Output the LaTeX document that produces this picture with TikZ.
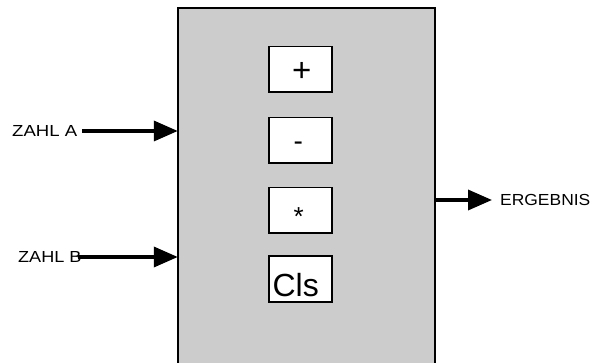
\documentclass[tikz,border=0pt]{standalone}
\usepackage{fontspec}
\setmainfont{Liberation Sans}
\usetikzlibrary{arrows.meta}
\definecolor{unitgray}{HTML}{CCCCCC}
\begin{document}
\begin{tikzpicture}[x=1pt,y=-1pt,
  frame/.style={line width=2pt},
  btn/.style={draw, line width=1.6pt, fill=white, minimum width=63.4pt,
              minimum height=45.6pt, inner sep=0pt},
  btntext/.style={inner sep=0pt, anchor=base},
  signal/.style={line width=3.5pt, -{Triangle[length=24pt,width=20pt]}},
  tag/.style={inner sep=0pt, anchor=base west, font=\fontsize{16}{16}\selectfont}]
\useasboundingbox[fill=white] (0,0) rectangle (594,363);

% calculator body (open at the bottom)
\node[fill=unitgray, minimum width=257pt, minimum height=358pt, inner sep=0pt]
  (unit) at (306.5,187) {};
\draw[frame] (unit.south west) -- (unit.north west) -- (unit.north east) -- (unit.south east);

% operation buttons
\node[btn] (plusB)  at (300.5,69.2)  {};
\node[btn] (minusB) at (300.5,140.2) {};
\node[btn] (timesB) at (300.5,210.2) {};
\node[btn] (clsB)   at (300.5,279)   {};

\node[btntext, font=\fontsize{33}{33}\selectfont] (plusT)  at (301.7,81.9)  {+};
\node[btntext, font=\fontsize{28}{28}\selectfont] (minusT) at (298.3,150.6) {-};
\node[btntext, font=\fontsize{26}{26}\selectfont] (timesT) at (298.8,225.3) {*};
\node[inner sep=0pt, anchor=base west, font=\fontsize{32}{32}\selectfont] (clsT) at (272.4,296.7) {Cls};

% inputs and output
\node[tag] (zahlA) at (12,136.3) {\scalebox{1.16}[1]{ZAHL A}};
\node[tag] (zahlB) at (18,262.5) {\scalebox{1.13}[1]{ZAHL B}};
\node[tag] (erg)   at (500,206)  {\scalebox{1.09}[1]{ERGEBNIS}};

\coordinate (aStart) at (82,131);
\coordinate (bStart) at (78,257);
\coordinate (outEnd) at (492,200);

\draw[signal] (aStart) -- (aStart -| unit.west);
\draw[signal] (bStart) -- (bStart -| unit.west);
\draw[signal] (unit.east |- outEnd) -- (outEnd);
\end{tikzpicture}
\end{document}
